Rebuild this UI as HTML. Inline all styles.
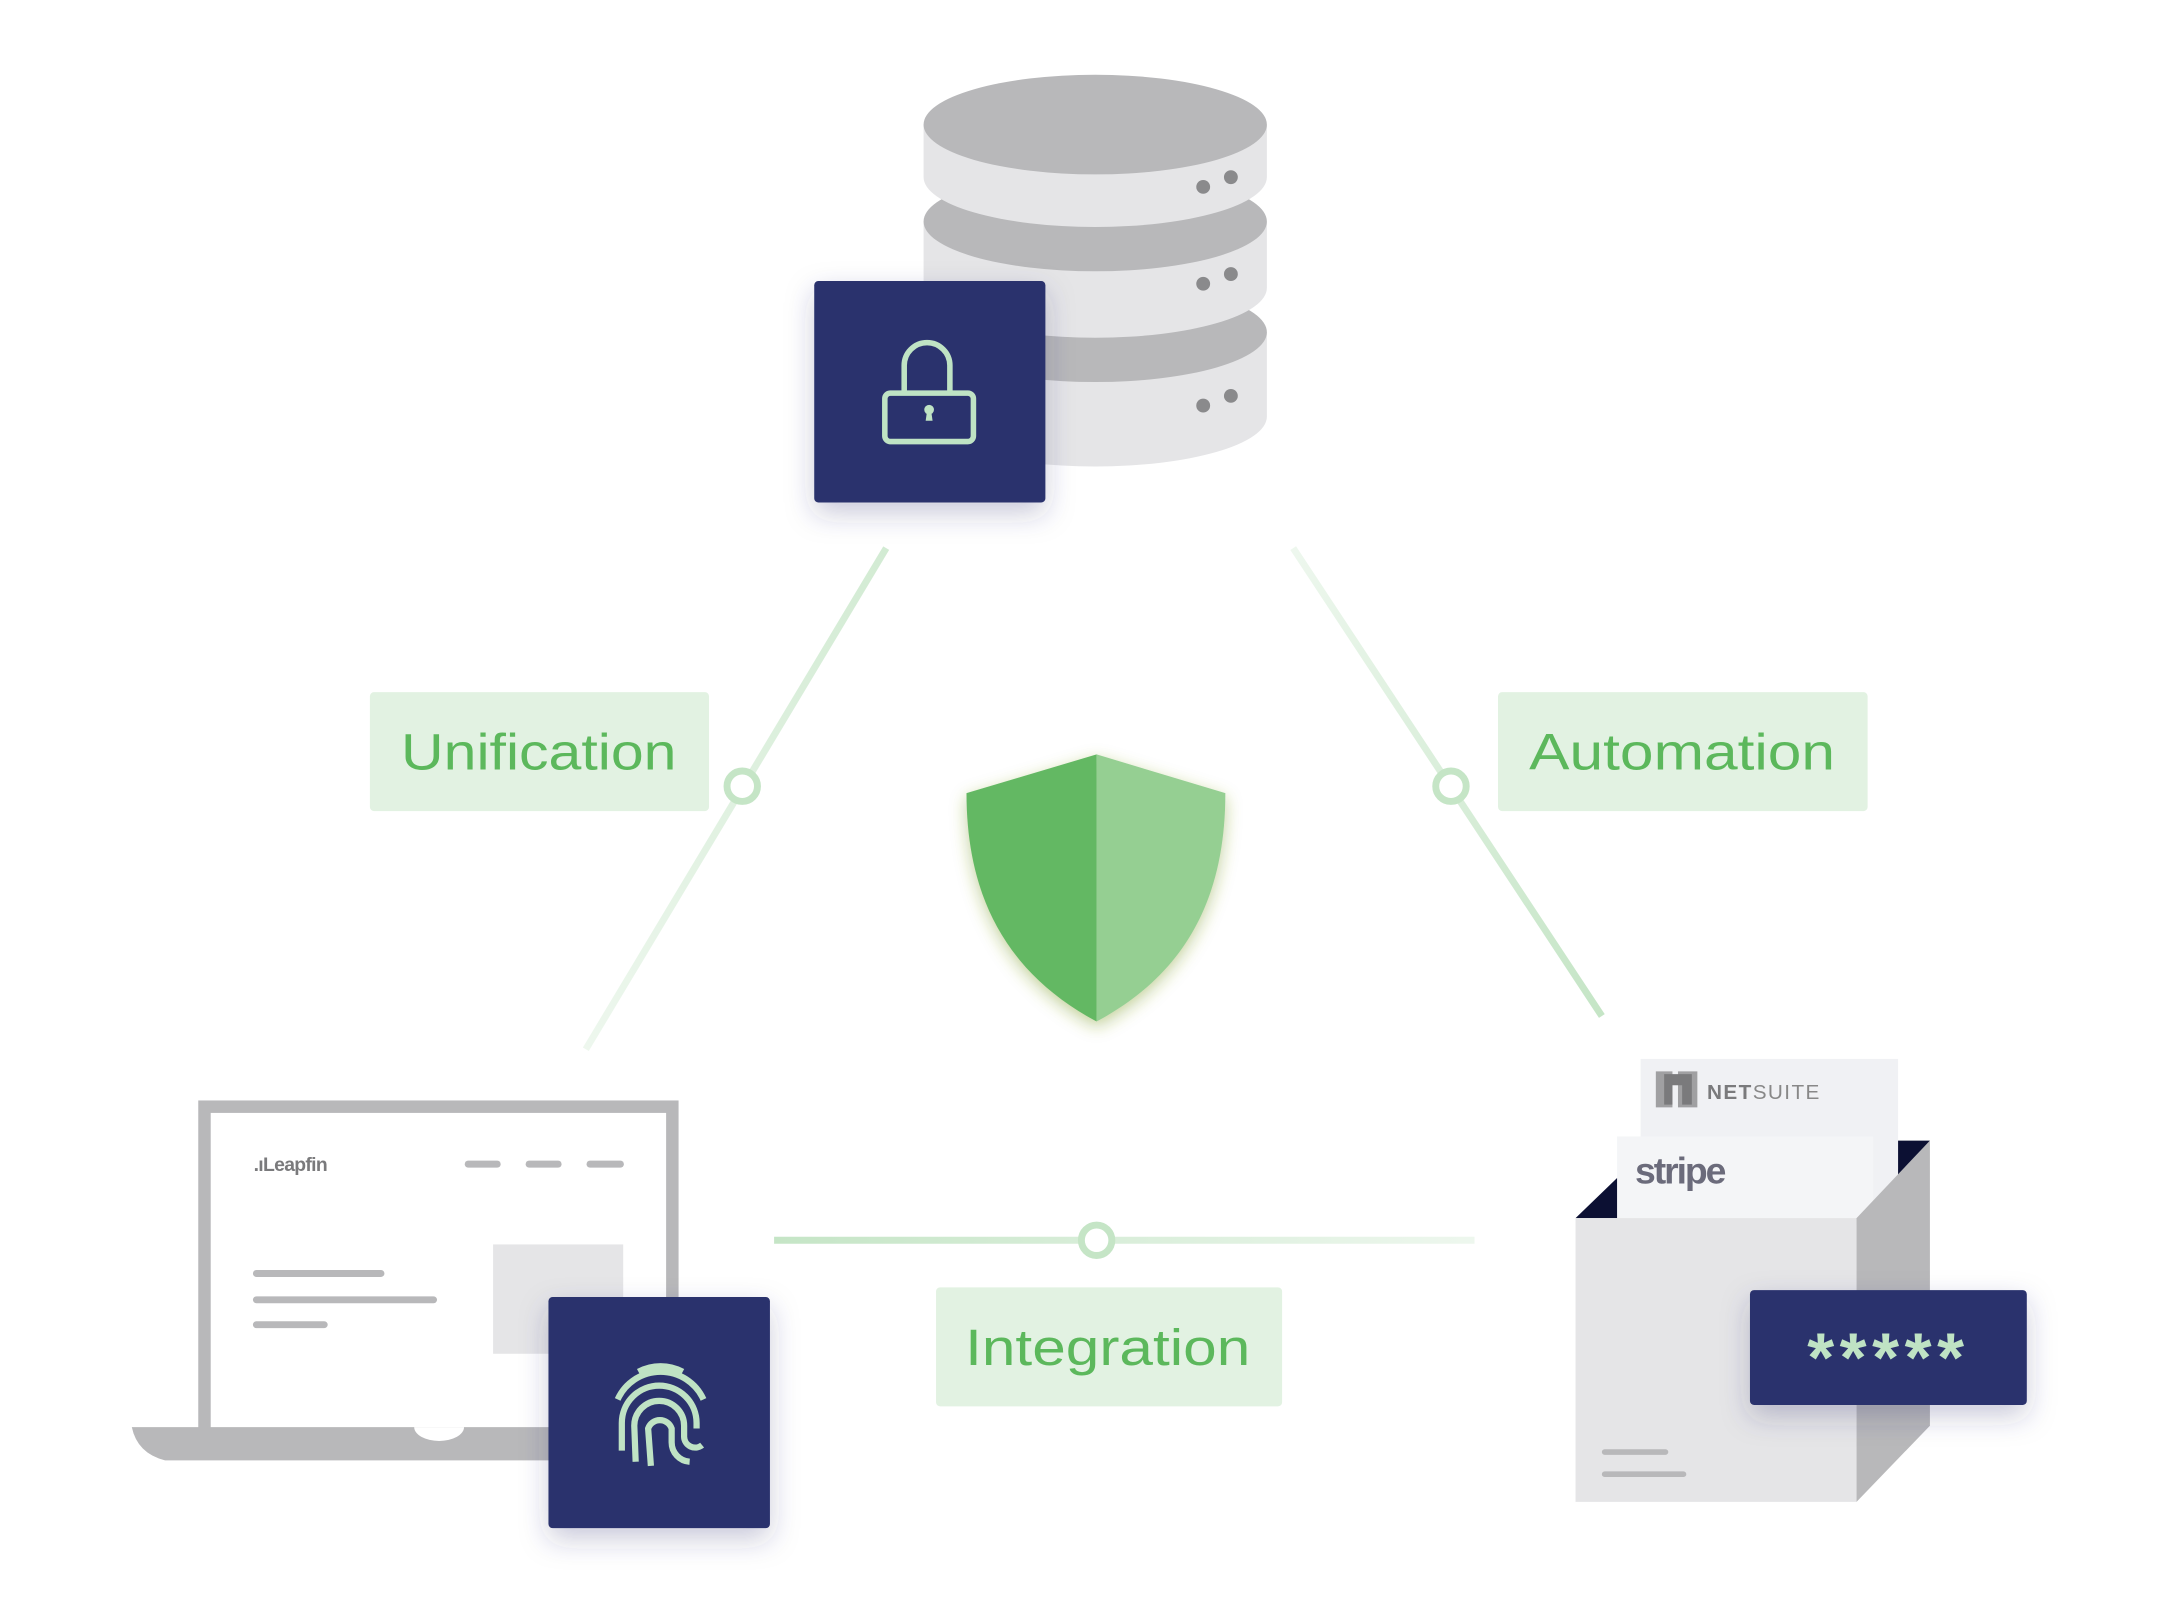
<!DOCTYPE html>
<html><head><meta charset="utf-8"><style>html,body{margin:0;padding:0;background:#fff}svg{display:block}</style></head>
<body>
<svg width="2160" height="1614" viewBox="0 0 1560 1166" xmlns="http://www.w3.org/2000/svg" font-family="Liberation Sans, sans-serif">
<defs>
<filter id="sh" x="-40%" y="-40%" width="180%" height="180%"><feDropShadow dx="0" dy="8" stdDeviation="10" flood-color="#2a326d" flood-opacity="0.25"/></filter>
<filter id="gs" x="-40%" y="-40%" width="180%" height="180%"><feDropShadow dx="0" dy="4" stdDeviation="6" flood-color="#7a9a20" flood-opacity="0.45"/></filter>
<linearGradient id="gl" x1="885" y1="398" x2="426" y2="760" gradientUnits="userSpaceOnUse"><stop offset="0" stop-color="#c5e5c6"/><stop offset="1" stop-color="#c5e5c6" stop-opacity="0.3"/></linearGradient>
<linearGradient id="gr" x1="937" y1="398" x2="1160" y2="736" gradientUnits="userSpaceOnUse"><stop offset="0" stop-color="#c5e5c6" stop-opacity="0.3"/><stop offset="1" stop-color="#c5e5c6"/></linearGradient>
<linearGradient id="gb" x1="562" y1="0" x2="1068" y2="0" gradientUnits="userSpaceOnUse"><stop offset="0" stop-color="#c5e5c6"/><stop offset="1" stop-color="#c5e5c6" stop-opacity="0.3"/></linearGradient>
</defs>

<g transform="translate(-3,-2)">
<!-- database -->
<path d="M670 242 L670 303 A124 36 0 0 0 918 303 L918 242 Z" fill="#e5e5e7"/>
<ellipse cx="794" cy="242" rx="124" ry="36" fill="#b8b8ba"/>
<circle cx="872" cy="295" r="5" fill="#8a8a8c"/><circle cx="892" cy="288" r="5" fill="#8a8a8c"/>
<path d="M670 162 L670 210 A124 36 0 0 0 918 210 L918 162 Z" fill="#e5e5e7"/>
<ellipse cx="794" cy="162" rx="124" ry="36" fill="#b8b8ba"/>
<circle cx="872" cy="207" r="5" fill="#8a8a8c"/><circle cx="892" cy="200" r="5" fill="#8a8a8c"/>
<path d="M670 92 L670 130 A124 36 0 0 0 918 130 L918 92 Z" fill="#e5e5e7"/>
<ellipse cx="794" cy="92" rx="124" ry="36" fill="#b8b8ba"/>
<circle cx="872" cy="137" r="5" fill="#8a8a8c"/><circle cx="892" cy="130" r="5" fill="#8a8a8c"/>
<rect x="591" y="205" width="167" height="160" rx="3" fill="#2a326d" filter="url(#sh)"/>
<g fill="none" stroke="#bfe3c4" stroke-width="4">
<path d="M656 286 L656 266 A16.5 16.5 0 0 1 689 266 L689 286"/>
<rect x="642" y="286" width="64" height="35" rx="4"/>
</g>
<circle cx="674" cy="298" r="3.5" fill="#bfe3c4"/><path d="M672.5 299 L675.5 299 L676.5 306 L671.5 306 Z" fill="#bfe3c4"/>

<!-- connectors -->
<line x1="643" y1="398" x2="426" y2="760" stroke="url(#gl)" stroke-width="5"/>
<line x1="937" y1="398" x2="1160" y2="736" stroke="url(#gr)" stroke-width="5"/>
<line x1="562" y1="898" x2="1068" y2="898" stroke="url(#gb)" stroke-width="5"/>
<g fill="#fff" stroke="#c5e5c6" stroke-width="5">
<circle cx="539" cy="570" r="11"/><circle cx="1051" cy="570" r="11"/><circle cx="795" cy="898" r="11"/>
</g>

<!-- labels -->
<rect x="270" y="502" width="245" height="86" rx="3" fill="#e2f2e2"/>
<text x="392" y="558" font-size="37" fill="#5cb85c" text-anchor="middle" textLength="199" lengthAdjust="spacingAndGlyphs">Unification</text>
<rect x="1085" y="502" width="267" height="86" rx="3" fill="#e2f2e2"/>
<text x="1218" y="558" font-size="37" fill="#5cb85c" text-anchor="middle" textLength="221" lengthAdjust="spacingAndGlyphs">Automation</text>
<rect x="679" y="932" width="250" height="86" rx="3" fill="#e2f2e2"/>
<text x="803" y="988" font-size="37" fill="#5cb85c" text-anchor="middle" textLength="206" lengthAdjust="spacingAndGlyphs">Integration</text>

<!-- shield -->
<g filter="url(#gs)">
<path d="M795 547 L701 575 C701 650 730 705 795 740 Z" fill="#64b864"/>
<path d="M795 547 L888 575 C888 650 860 705 795 740 Z" fill="#95cf92"/>
</g>

<!-- laptop -->
<rect x="146" y="797" width="347" height="240" fill="#b8b8ba"/>
<rect x="155" y="806" width="329" height="231" fill="#fff"/>
<path d="M98 1033 L542 1033 L542 1057 L122 1057 Q102 1052 98 1033 Z" fill="#b8b8ba"/>
<path d="M302 1033 A18 10 0 0 0 338 1033 Z" fill="#fff"/>
<text x="186" y="848" font-size="14" font-weight="bold" fill="#7a7a7c" letter-spacing="-0.5">.ıLeapfin</text>
<g stroke="#b8b8ba" stroke-width="5" stroke-linecap="round">
<line x1="341" y1="843" x2="362" y2="843"/><line x1="385" y1="843" x2="406" y2="843"/><line x1="429" y1="843" x2="451" y2="843"/>
<line x1="188" y1="922" x2="278" y2="922"/><line x1="188" y1="941" x2="316" y2="941"/><line x1="188" y1="959" x2="237" y2="959"/>
</g>
<rect x="359" y="901" width="94" height="79" fill="#e5e5e7"/>
<rect x="399" y="939" width="160" height="167" rx="3" fill="#2a326d" filter="url(#sh)"/>
<g fill="none" stroke="#bfe3c4" stroke-width="4.5">
<path d="M464 993 A34 34 0 0 1 496 993"/>
<path d="M449 1013 A34 34 0 0 1 511 1013"/>
<path d="M452 1050 L452 1030 A27 27 0 0 1 506 1030 L506 1034"/>
<path d="M462 1058 L461 1032 A18 18 0 0 1 497 1032 L497 1040 A8 8 0 0 0 510 1046"/>
<path d="M473 1061 L471 1034 A9 9 0 0 1 488 1034 L488 1044 A14 14 0 0 0 501 1058"/>
</g>

<!-- box -->
<rect x="1188" y="767" width="186" height="120" fill="#f0f1f4"/>
<path d="M1199 776 L1211 776 L1211 802 L1199 802 Z M1215 776 L1229 776 L1229 802 L1215 802 Z" fill="#a0a0a2"/>
<path d="M1205 778 L1225 778 L1225 800 L1218 800 L1218 786 L1211 786 L1211 800 L1205 800 Z" fill="#7a7a7c"/>
<text x="1236" y="796" font-size="15" fill="#888" letter-spacing="1"><tspan font-weight="bold" fill="#7a7a7c">NET</tspan>SUITE</text>
<path d="M1374 826 L1397 826 L1374 853 Z" fill="#0c1033"/>
<rect x="1171" y="823" width="185" height="62" fill="#f4f5f7"/>
<text x="1184" y="857" font-size="27" font-weight="bold" fill="#6b6b7b" letter-spacing="-1.5">stripe</text>
<path d="M1141 882 L1171 853 L1171 882 Z" fill="#0c1033"/>
<rect x="1141" y="882" width="203" height="205" fill="#e5e5e7"/>
<path d="M1344 882 L1397 826 L1397 1032 L1344 1087 Z" fill="#b8b8ba"/>
<g stroke="#b8b8ba" stroke-width="4" stroke-linecap="round">
<line x1="1162" y1="1051" x2="1206" y2="1051"/><line x1="1162" y1="1067" x2="1219" y2="1067"/>
</g>
<rect x="1267" y="934" width="200" height="83" rx="3" fill="#2a326d" filter="url(#sh)"/>
<text x="1367" y="1000" font-size="50" font-weight="bold" fill="#bfe3c4" text-anchor="middle" letter-spacing="4">*****</text>
</g>
</svg>
</body></html>
